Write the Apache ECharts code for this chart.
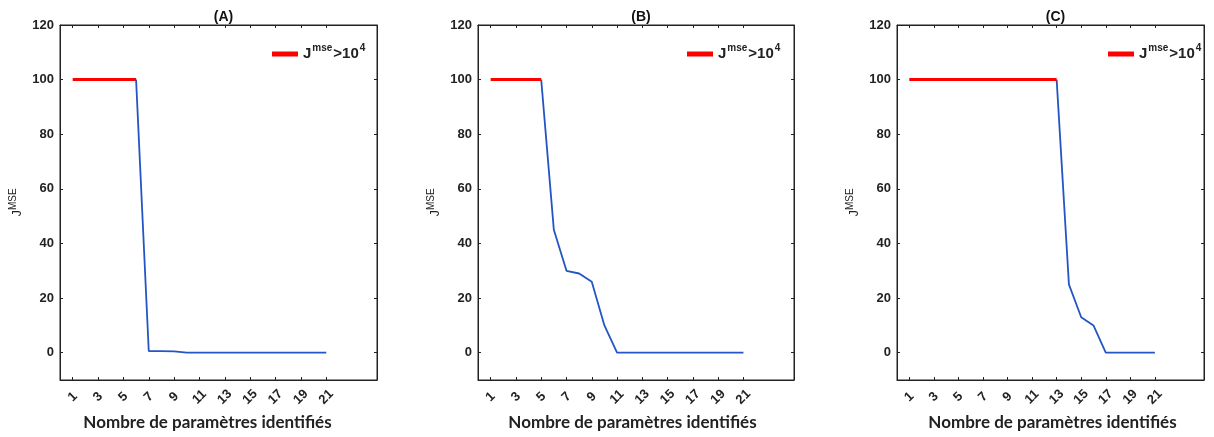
<!DOCTYPE html>
<html>
<head>
<meta charset="utf-8">
<script src="https://cdn.jsdelivr.net/npm/echarts@6/dist/echarts.min.js"></script>
<style>
html,body{margin:0;padding:0;background:#fff;}
#chart{width:1214px;height:437px;}
</style>
</head>
<body>
<div id="chart"></div>
<script>
// ---- data ----
const xValues = [1,2,3,4,5,6,7,8,9,10,11,12,13,14,15,16,17,18,19,20,21];
const xTickLabels = [1,3,5,7,9,11,13,15,17,19,21];
const yTickLabels = [0,20,40,60,80,100,120];
const panelTitles = ['(A)','(B)','(C)'];

// red = J^mse > 10^4 (plotted at 100), blue = J^MSE value
const redA  = [100,100,100,100,100,100,null,null,null,null,null,null,null,null,null,null,null,null,null,null,null];
const blueA = [null,null,null,null,null,100,0.6,0.6,0.5,0,0,0,0,0,0,0,0,0,0,0,0];
const redB  = [100,100,100,100,100,null,null,null,null,null,null,null,null,null,null,null,null,null,null,null,null];
const blueB = [null,null,null,null,100,45,30,29,26,10,0,0,0,0,0,0,0,0,0,0,0];
const redC  = [100,100,100,100,100,100,100,100,100,100,100,100,100,null,null,null,null,null,null,null,null];
const blueC = [null,null,null,null,null,null,null,null,null,null,null,null,100,25,13,10,0,0,0,0,0];

const reds = [redA, redB, redC];
const blues = [blueA, blueB, blueC];

// ---- layout ----
const grids = [
  {left:60, top:25, width:317, height:355},
  {left:478, top:25, width:316, height:355},
  {left:897, top:25, width:307, height:355}
];
const legendLeft = [267, 682, 1103];
const xNamePad = [[0,22,0,0],[0,7,0,0],[0,0,0,4]];

function pairs(arr){ return xValues.map((x,i)=> arr[i]==null ? null : [x, arr[i]]).filter(p=>p); }

const FF = 'Liberation Sans, Arial, sans-serif';
const tickFont = {fontFamily:FF, fontSize:13, fontWeight:'bold', color:'#222'};
const richLegend = {
  j:{fontFamily:FF, fontSize:15, fontWeight:'bold', color:'#222'},
  g:{fontFamily:FF, fontSize:15, fontWeight:'bold', color:'#222'},
  s:{fontFamily:FF, fontSize:10, fontWeight:'bold', color:'#222', verticalAlign:'top', padding:[0,1,12,1]}
};

const option = {
  animation:false,
  backgroundColor:'#fff',
  title:[], grid:[], xAxis:[], yAxis:[], series:[], legend:[]
};

grids.forEach((g,i)=>{
  option.grid.push(Object.assign({show:true, borderColor:'#222', borderWidth:1, containLabel:false}, g));
  option.title.push({
    text: panelTitles[i],
    left: g.left + g.width/2, top: 5, textAlign:'center',
    textStyle:{fontFamily:FF, fontSize:14, fontWeight:'bold', color:'#111'}
  });
  const xBase = {
    type:'value', gridIndex:i, min:0, max:25,
    axisLine:{show:true, onZero:false, lineStyle:{color:'#222', width:1}},
    axisTick:{show:true, inside:true, length:3, customValues:xTickLabels, lineStyle:{color:'#222'}},
    splitLine:{show:false}
  };
  option.xAxis.push(Object.assign({}, xBase, {
    position:'bottom',
    axisLabel:{show:true, customValues:xTickLabels, rotate:45, align:'center', verticalAlign:'middle', margin:17, ...tickFont},
    name:'Nombre de paramètres identifiés', nameLocation:'middle', nameGap:32,
    nameTextStyle:{fontFamily:'Lato, Open Sans, sans-serif', fontSize:17, fontWeight:'bold', color:'#222', verticalAlign:'top', padding:xNamePad[i]}
  }));
  option.xAxis.push(Object.assign({}, xBase, {position:'top', axisLabel:{show:false}}));
  const yBase = {
    type:'value', gridIndex:i, min:-10, max:120,
    axisLine:{show:true, onZero:false, lineStyle:{color:'#222', width:1}},
    axisTick:{show:true, inside:true, length:3, customValues:yTickLabels, lineStyle:{color:'#222'}},
    splitLine:{show:false}
  };
  option.yAxis.push(Object.assign({}, yBase, {
    position:'left',
    axisLabel:{show:true, customValues:yTickLabels, margin:6, ...tickFont},
    name:'{j|J}{s|MSE}', nameLocation:'middle', nameGap:33, nameRotate:90,
    nameTextStyle:{rich:{
      j:{fontFamily:FF, fontSize:13, color:'#222'},
      s:{fontFamily:FF, fontSize:10, color:'#222', verticalAlign:'top', padding:[0,0,9,0]}
    }}
  }));
  option.yAxis.push(Object.assign({}, yBase, {position:'right', axisLabel:{show:false}}));

  const name = 'red'+i;
  option.series.push({
    type:'line', name:name, xAxisIndex:2*i, yAxisIndex:2*i,
    data: pairs(blues[i]), showSymbol:false, symbol:'none',
    lineStyle:{color:'#2356c4', width:1.8}, z:2, silent:true
  });
  option.series.push({
    type:'line', name:name, xAxisIndex:2*i, yAxisIndex:2*i,
    data: pairs(reds[i]), showSymbol:false, symbol:'none',
    itemStyle:{color:'#ff0000'},
    lineStyle:{color:'#ff0000', width:3}, z:3, silent:true
  });
  option.legend.push({
    data:[{name:name, icon:'rect', itemStyle:{color:'#ff0000'}}],
    left: legendLeft[i], top: 38,
    itemWidth:26, itemHeight:5, itemGap:2,
    selectedMode:false,
    formatter: ()=> '{j|J}{s|mse}{g|>10}{s|4}',
    textStyle:{rich:richLegend}
  });
});

const chart = echarts.init(document.getElementById('chart'), null, {renderer:'canvas'});
chart.setOption(option);
</script>
</body>
</html>
